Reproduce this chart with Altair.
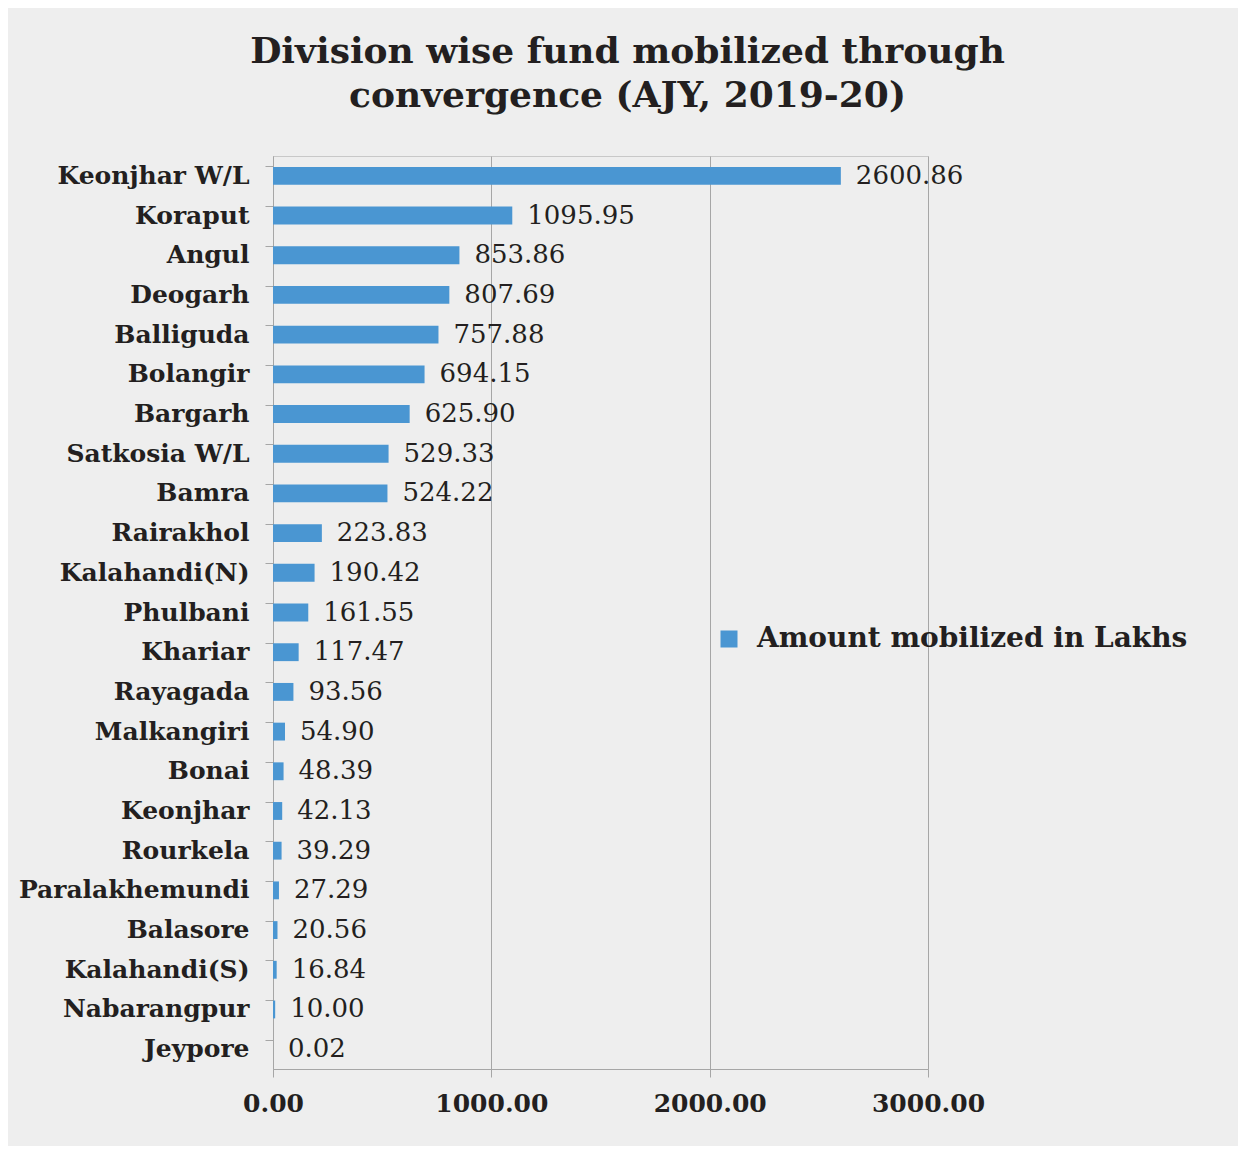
import altair as alt
import pandas as pd

divisions = ["Keonjhar W/L", "Koraput", "Angul", "Deogarh", "Balliguda", "Bolangir",
             "Bargarh", "Satkosia W/L", "Bamra", "Rairakhol", "Kalahandi(N)", "Phulbani",
             "Khariar", "Rayagada", "Malkangiri", "Bonai", "Keonjhar", "Rourkela",
             "Paralakhemundi", "Balasore", "Kalahandi(S)", "Nabarangpur", "Jeypore"]
amounts = [2600.86, 1095.95, 853.86, 807.69, 757.88, 694.15, 625.90, 529.33, 524.22,
           223.83, 190.42, 161.55, 117.47, 93.56, 54.90, 48.39, 42.13, 39.29, 27.29,
           20.56, 16.84, 10.00, 0.02]
series_name = "Amount mobilized in Lakhs"
x_ticks = [0, 1000, 2000, 3000]

df = pd.DataFrame({"division": divisions, "amount": amounts, "series": series_name})

FONT = "DejaVu Serif"
DARK = "#231f20"
BAR = "#4a96d2"
GRID = "#a6a6a6"

y_enc = alt.Y("division:N", sort=divisions,
              scale=alt.Scale(paddingInner=0.55, paddingOuter=0.275),
              axis=alt.Axis(title=None, grid=False, domainColor=GRID, tickColor=GRID,
                            tickSize=8, bandPosition=0, labelPadding=16, labelLimit=400,
                            labelFont=FONT, labelFontWeight="bold", labelFontSize=25,
                            labelColor=DARK))
x_enc = alt.X("amount:Q", scale=alt.Scale(domain=[0, 3000], nice=False),
              axis=alt.Axis(title=None, values=x_ticks, format=".2f", grid=True,
                            gridColor=GRID, domainColor=GRID, tickColor=GRID, tickSize=8,
                            labelPadding=14, labelFont=FONT, labelFontWeight="bold",
                            labelFontSize=25, labelColor=DARK, labelFlush=False))

bars = alt.Chart(df).mark_bar().encode(
    y=y_enc, x=x_enc,
    color=alt.Color("series:N", scale=alt.Scale(range=[BAR]),
                    legend=alt.Legend(title=None, orient="none", legendX=442, legendY=469,
                                      symbolType="square", symbolSize=289,
                                      symbolStrokeWidth=0, labelFont=FONT,
                                      labelFontWeight="bold", labelFontSize=28,
                                      labelColor=DARK, labelOffset=14, labelLimit=600)))

labels = alt.Chart(df).mark_text(align="left", baseline="middle", dx=15, font=FONT,
                                 fontSize=26, color=DARK).encode(
    y=alt.Y("division:N", sort=divisions), x="amount:Q",
    text=alt.Text("amount:Q", format=".2f"))

chart = alt.layer(bars, labels).properties(
    width=655, height=913,
    title=alt.TitleParams(["Division wise fund mobilized through", "convergence (AJY, 2019-20)"],
                          font=FONT, fontWeight="bold", fontSize=36, lineHeight=44,
                          color=DARK, anchor="middle", dx=27, offset=41),
    autosize=alt.AutoSizeParams(type="none"),
    padding={"left": 265, "top": 148, "right": 310, "bottom": 77},
    background="#eeeeee",
).configure_view(stroke="#c8c8c8")

chart.save("out.html", embed_options={"renderer": "svg", "actions": False})
